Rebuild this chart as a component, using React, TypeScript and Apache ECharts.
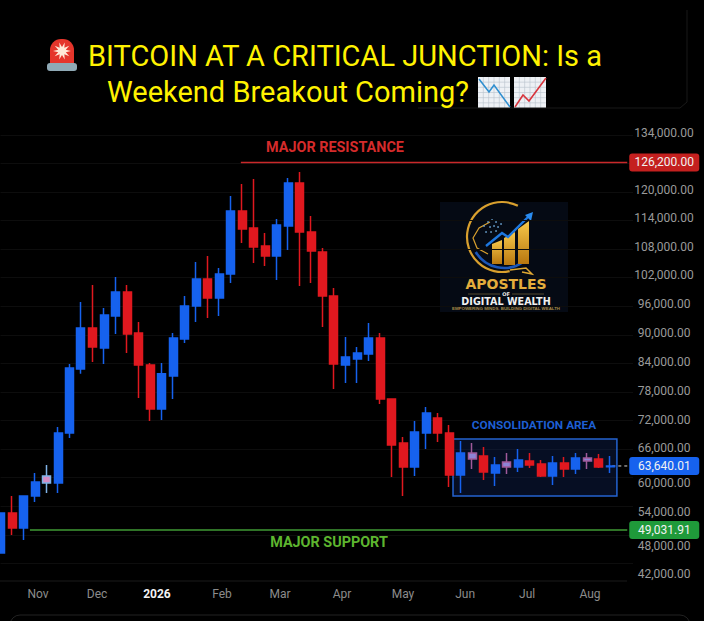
import React, { useEffect, useRef } from "react";
import * as echarts from "echarts";

const FONT = "Roboto, 'Liberation Sans', sans-serif";
const LOGO_FONT = "'DejaVu Sans', sans-serif";

// Candle values (plotted on one linear price scale)
const opens = [44195, 52595, 49445, 56165, 58895, 58895, 69395, 82835, 91445, 87245, 93965, 99005, 90395, 83675, 74435, 81365, 89135, 96065, 101735, 97745, 102785, 116015, 112445, 108665, 106565, 112865, 121895, 111605, 107405, 98165, 83675, 84935, 85985, 89345, 76535, 67295, 62255, 69395, 72545, 69395, 60575, 63935, 64565, 60995, 62255, 62255, 63515, 62885, 60365, 63095, 61835, 63515, 63935, 62300];
const closes = [52595, 49445, 56165, 59105, 60365, 69395, 83045, 91445, 87455, 94175, 99005, 90185, 83675, 74435, 81815, 89345, 96065, 101735, 97745, 102785, 116015, 112235, 108455, 106565, 113075, 121895, 111605, 107615, 98165, 83885, 85355, 86195, 89345, 76535, 66875, 62255, 69605, 73595, 69395, 60575, 65195, 65195, 61205, 62675, 63305, 63725, 62675, 60365, 63095, 61835, 64145, 64145, 62255, 62465];
const lows = [44195, 47975, 46925, 54905, 56795, 56795, 68345, 81815, 84305, 83885, 90185, 86195, 76745, 71915, 72125, 76535, 88295, 92705, 93545, 93965, 100895, 109295, 105095, 104465, 101525, 107825, 100265, 100895, 91655, 78635, 79895, 79895, 84515, 75485, 60155, 56165, 60365, 66035, 67505, 58055, 56795, 61835, 59525, 58265, 60785, 61205, 62045, 60155, 58475, 60155, 60785, 61835, 62045, 60995];
const highs = [52595, 56165, 56165, 60995, 62675, 70655, 83885, 96905, 100475, 95645, 102155, 100475, 92705, 84095, 84095, 90395, 98165, 105305, 106565, 104045, 119165, 121685, 122735, 111395, 114335, 122945, 124205, 114965, 108245, 99845, 89555, 87455, 92495, 90395, 76535, 68555, 71915, 74855, 73595, 71075, 67715, 67295, 66455, 64355, 65195, 66035, 65195, 63725, 64565, 64355, 65195, 65195, 64985, 64565];
const categories = [...opens.map((_, i) => String(i)), "", ""];

// Candles whose body is neither plain blue nor plain red
const pinkCandles = [4];
const lavenderCandles = [41, 44, 51];

// Price-axis tick labels, and where each sits on the price scale in the picture
const yTickLabels = ["134,000.00", "120,000.00", "114,000.00", "108,000.00", "102,000.00", "96,000.00", "90,000.00", "84,000.00", "78,000.00", "72,000.00", "66,000.00", "60,000.00", "54,000.00", "48,000.00", "42,000.00"];
const yTickAt = [132395, 120425, 114545, 108455, 102575, 96485, 90395, 84305, 78215, 72125, 66245, 58895, 52805, 45665, 39785];

// Time-axis labels and their places along the candle sequence
const monthLabels = ["Nov", "Dec", "2026", "Feb", "Mar", "Apr", "May", "Jun", "Jul", "Aug"];
const monthAt = [3.26, 8.4, 13.6, 19.26, 24.3, 29.7, 35, 40.4, 45.8, 51.26];

const resistanceLevel = 126200;
const supportLevel = 49031.91;
const lastPriceLabel = "63,640.01";
const lastPricePlotted = 62465;
const consolidationTop = 68135;
const consolidationBottom = 56165;

const BLUE = "#1662ee";
const RED = "#e0181f";
const X_END = 54.5;

function candleItem(i: number) {
  const value = [opens[i], closes[i], lows[i], highs[i]];
  let special: string | null = null;
  let wick: string | null = null;
  if (pinkCandles.includes(i)) { special = "#d58cc4"; wick = "#7fb2e6"; }
  if (lavenderCandles.includes(i)) { special = "#8d84d6"; wick = "#a05a9a"; }
  if (!special) return { value };
  return { value, itemStyle: { color: special, color0: special, borderColor: wick, borderColor0: wick } };
}

function levelSeries(name: string, fromX: number, level: number, color: string, text: string, tagColor: string, dashed: boolean, extra: any = {}) {
  return {
    name,
    type: "line",
    xAxisIndex: 1,
    yAxisIndex: 0,
    data: [[fromX, level], [X_END, level]],
    symbol: "none",
    silent: true,
    clip: false,
    z: 4,
    lineStyle: { color, width: dashed ? 1 : 1.4, type: dashed ? [3, 3] : "solid" },
    endLabel: {
      show: true,
      formatter: () => text,
      color: "#f2f2f2",
      fontFamily: FONT,
      fontSize: 12,
      width: 58,
      align: "center",
      backgroundColor: tagColor,
      padding: [3, 6, 3, 6],
      borderRadius: 3,
      distance: 37,
    },
    ...extra,
  };
}

function titleIcons(): any[] {
  const star: number[][] = [];
  for (let k = 0; k < 20; k++) {
    const a = (k * Math.PI) / 10;
    const r = k % 2 ? 4 : 9;
    star.push([62 + r * Math.cos(a), 51 + r * Math.sin(a)]);
  }
  const chartIcon = (x: number, pts: number[][], color: string) => {
    const kids: any[] = [{ type: "rect", shape: { x, y: 77, width: 32, height: 31 }, style: { fill: "#eef1f5" } }];
    for (let k = 1; k < 6; k++) {
      kids.push({ type: "line", shape: { x1: x + (k * 32) / 6, y1: 77, x2: x + (k * 32) / 6, y2: 108 }, style: { stroke: "#b9c3cc", lineWidth: 0.6 } });
      kids.push({ type: "line", shape: { x1: x, y1: 77 + (k * 31) / 6, x2: x + 32, y2: 77 + (k * 31) / 6 }, style: { stroke: "#b9c3cc", lineWidth: 0.6 } });
    }
    kids.push({ type: "polyline", shape: { points: pts }, style: { stroke: color, lineWidth: 1.6, fill: "none" } });
    return { type: "group", children: kids };
  };
  return [
    { type: "rect", shape: { x: 50, y: 39, width: 24, height: 25, r: [11, 11, 0, 0] }, style: { fill: "#e5352b" } },
    { type: "polygon", shape: { points: star }, style: { fill: "#ffe9d8" } },
    { type: "rect", shape: { x: 47, y: 63, width: 30, height: 8, r: 3 }, style: { fill: "#8fa9b5" } },
    chartIcon(478, [[479, 79], [489, 92], [494, 85], [510, 107]], "#2f8fd0"),
    chartIcon(514, [[515, 107], [523, 95], [529, 101], [546, 78]], "#d8343c"),
  ];
}

function logo(): any[] {
  const gold = new echarts.graphic.LinearGradient(0, 0, 0, 1, [
    { offset: 0, color: "#f7c84a" },
    { offset: 1, color: "#b8770f" },
  ]);
  const dots: any[] = [];
  const dotAt = [[484, 226], [488, 222], [492, 220], [496, 222], [490, 227], [494, 226], [498, 227], [486, 232], [491, 232], [496, 231], [501, 224]];
  dotAt.forEach(([cx, cy]) => dots.push({ type: "circle", shape: { cx, cy, r: 0.8 }, style: { fill: "#6fa8d8" } }));
  return [
    { type: "rect", shape: { x: 440, y: 202, width: 128, height: 110 }, style: { fill: "#050a14" } },
    { type: "arc", shape: { cx: 502, cy: 237, r: 35, startAngle: -1.1, endAngle: 1.35, clockwise: false }, style: { stroke: "#d9a02e", lineWidth: 2.2, fill: "none" } },
    { type: "arc", shape: { cx: 504, cy: 235, r: 33, startAngle: 0.95, endAngle: 2.6 }, style: { stroke: "#1b56b8", lineWidth: 2.6, fill: "none" } },
    { type: "polyline", shape: { points: [[510, 270], [526, 268], [532, 274], [522, 272]] }, style: { stroke: "#e0a832", lineWidth: 1.5, fill: "none" } },
    { type: "polyline", shape: { points: [[490, 222], [479, 228], [473, 238], [477, 248], [488, 254]] }, style: { stroke: "#d9a02e", lineWidth: 1.2, fill: "none" } },
    ...dots,
    { type: "polygon", shape: { points: [[492, 244], [502, 240], [502, 264], [492, 264]] }, style: { fill: gold } },
    { type: "polygon", shape: { points: [[504, 238], [515, 232], [515, 265], [504, 265]] }, style: { fill: gold } },
    { type: "polygon", shape: { points: [[518, 229], [529, 221], [529, 264], [518, 264]] }, style: { fill: gold } },
    { type: "polyline", shape: { points: [[486, 246], [502, 233], [508, 237], [529, 216]] }, style: { stroke: "#1e78e0", lineWidth: 2.4, fill: "none" } },
    { type: "polygon", shape: { points: [[533, 212], [531, 221], [525, 215]] }, style: { fill: "#2a8cf0" } },
    { type: "text", x: 506, y: 284, style: { text: "APOSTLES", fontFamily: LOGO_FONT, fontSize: 14, fontWeight: "bold", fill: "#e4ad3c", align: "center", verticalAlign: "middle" } },
    { type: "text", x: 506, y: 293.7, style: { text: "OF", fontFamily: LOGO_FONT, fontSize: 5, fontWeight: "bold", fill: "#e8e8e8", align: "center", verticalAlign: "middle" } },
    { type: "line", shape: { x1: 468, y1: 294, x2: 500, y2: 294 }, style: { stroke: "#8a7440", lineWidth: 0.6 } },
    { type: "line", shape: { x1: 512, y1: 294, x2: 544, y2: 294 }, style: { stroke: "#8a7440", lineWidth: 0.6 } },
    { type: "text", x: 506, y: 301.4, style: { text: "DIGITAL WEALTH", fontFamily: LOGO_FONT, fontSize: 9.6, fontWeight: "bold", fill: "#f0f0f0", align: "center", verticalAlign: "middle" } },
    { type: "text", x: 506, y: 308.6, style: { text: "EMPOWERING MINDS. BUILDING DIGITAL WEALTH", fontFamily: "'Liberation Sans', sans-serif", fontSize: 4.4, fontWeight: "bold", fill: "#a88a48", align: "center", verticalAlign: "middle" } },
  ];
}

function annotation(text: string, x: number, y: number, fill: string, fontSize = 14.4) {
  return { type: "text", x, y, z: 20, style: { text, fontFamily: FONT, fontSize, fontWeight: "bold", fill, align: "center", verticalAlign: "middle" } };
}

export default function App() {
  const ref = useRef<HTMLDivElement>(null);
  useEffect(() => {
    document.body.style.margin = "0";
    document.body.style.background = "#000";
    const chart = echarts.init(ref.current!, undefined, { renderer: "svg" });
    chart.setOption({
      animation: false,
      backgroundColor: "#000",
      grid: { left: 0.5, top: 106.3, width: 632.5, height: 485.7, containLabel: false },
      xAxis: [
        {
          type: "category",
          data: categories,
          boundaryGap: false,
          axisLine: { show: false },
          axisTick: { show: false },
          axisLabel: { show: false },
          splitLine: { show: false },
        },
        {
          type: "value",
          position: "bottom",
          offset: -11,
          min: 0,
          max: 55,
          axisLine: { show: false },
          axisTick: { show: false },
          splitLine: { show: false },
          axisLabel: {
            customValues: monthAt,
            margin: 7,
            color: "#8c8c8c",
            fontFamily: FONT,
            fontSize: 12,
            formatter: (v: number) => {
              const label = monthLabels[monthAt.indexOf(v)] ?? "";
              return label === "2026" ? `{year|${label}}` : label;
            },
            rich: { year: { color: "#f2f2f2", fontWeight: "bold", fontFamily: FONT, fontSize: 12 } },
          },
        },
      ],
      yAxis: {
        type: "value",
        position: "right",
        min: 36000,
        max: 138000,
        interval: 6000,
        axisLine: { show: false },
        axisTick: { show: false },
        splitLine: { show: true, showMinLine: false, showMaxLine: false, lineStyle: { color: "#0d0d0d", width: 1 } },
        axisLabel: {
          customValues: yTickAt,
          margin: 31,
          align: "center",
          color: "#9a9a9a",
          fontFamily: FONT,
          fontSize: 12,
          formatter: (v: number) => yTickLabels[yTickAt.indexOf(v)] ?? "",
        },
      },
      series: [
        levelSeries("Major resistance", 20.9, resistanceLevel, "#c9282a", "126,200.00", "#c4201f", false),
        levelSeries("Major support", 2.56, supportLevel, "#3f9a35", "49,031.91", "#1f9a3a", false),
        levelSeries("Last price", 53.2, lastPricePlotted, "#d8d8d8", lastPriceLabel, "#1662ee", true, {
          markArea: {
            silent: true,
            itemStyle: { color: "rgba(18,44,110,0.32)", borderColor: "#2463d0", borderWidth: 1.5, borderRadius: 2 },
            data: [[{ coord: [39.35, consolidationTop] }, { coord: [53.6, consolidationBottom] }]],
          },
        }),
        {
          name: "BTC",
          type: "candlestick",
          xAxisIndex: 0,
          yAxisIndex: 0,
          barWidth: 8.5,
          z: 5,
          clip: false,
          data: opens.map((_, i) => candleItem(i)),
          itemStyle: { color: BLUE, color0: RED, borderColor: BLUE, borderColor0: RED, borderWidth: 1.5 },
        },
      ],
      graphic: [
        ...logo(),
        ...titleIcons(),
        { type: "line", shape: { x1: 0, y1: 581, x2: 627, y2: 581 }, style: { stroke: "#1a1a1a", lineWidth: 1 } },
        { type: "polyline", shape: { points: [[418, 108], [680, 108], [687, 102], [687, 10]] }, style: { stroke: "#191919", lineWidth: 1, fill: "none" } },
        { type: "rect", shape: { x: 10, y: 615, width: 680, height: 40, r: 10 }, style: { stroke: "#222222", lineWidth: 1, fill: "none" } },
        { type: "text", x: 88, y: 56, style: { text: "BITCOIN AT A CRITICAL JUNCTION: Is a", fontFamily: FONT, fontSize: 29, fill: "#fff200", align: "left", verticalAlign: "middle" } },
        { type: "text", x: 107, y: 92, style: { text: "Weekend Breakout Coming?", fontFamily: FONT, fontSize: 29, fill: "#fff200", align: "left", verticalAlign: "middle" } },
        annotation("MAJOR RESISTANCE", 335, 147, "#d52b2b"),
        annotation("MAJOR SUPPORT", 329, 542, "#5db52f"),
        annotation("CONSOLIDATION AREA", 534, 425, "#1e5fd2", 11.8),
      ],
    });
    return () => chart.dispose();
  }, []);
  return <div ref={ref} style={{ width: 704, height: 621 }} />;
}
